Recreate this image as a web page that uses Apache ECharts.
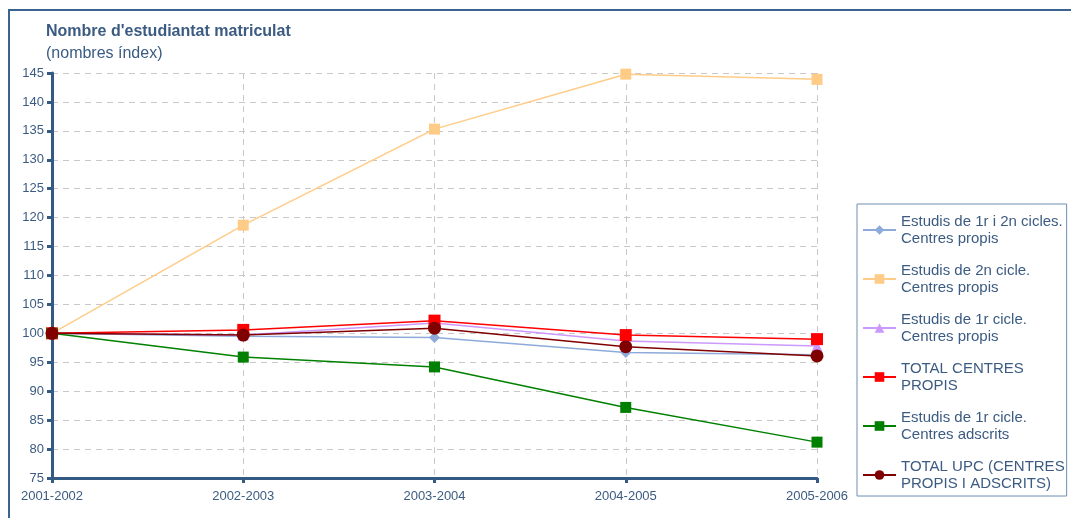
<!DOCTYPE html>
<html style="height: 100%;">
<head>
    <meta charset="UTF-8">
    <script src="https://cdn.jsdelivr.net/npm/echarts/dist/echarts.min.js"></script>
</head>
<body style="height: 100%; margin: 0; background: #fff;">
    <div id="chart" style="width: 1071px; height: 518px;"></div>

    <script type="text/javascript">
        // Academic years (x axis)
        var years = ['2001-2002', '2002-2003', '2003-2004', '2004-2005', '2005-2006'];

        // Index numbers (2001-2002 = 100)
        var cicles1r2nPropis = [100, 99.5, 99.3, 96.7, 96.3];
        var cicle2nPropis = [100, 118.7, 135.3, 144.8, 143.9];
        var cicle1rPropis = [100, 99.7, 101.8, 98.7, 97.8];
        var totalPropis = [100, 100.6, 102.2, 99.7, 99.0];
        var cicle1rAdscrits = [100, 95.9, 94.2, 87.2, 81.2];
        var totalUpc = [100, 99.7, 100.9, 97.7, 96.1];

        var names = [
            'Estudis de 1r i 2n cicles.\nCentres propis',
            'Estudis de 2n cicle.\nCentres propis',
            'Estudis de 1r cicle.\nCentres propis',
            'TOTAL CENTRES\nPROPIS',
            'Estudis de 1r cicle.\nCentres adscrits',
            'TOTAL UPC (CENTRES\nPROPIS I ADSCRITS)'
        ];

        var textColor = '#3b5b82';
        var axisColor = '#345a84';

        function makeSeries(name, data, color, symbol, size) {
            return {
                name: name,
                type: 'line',
                data: data,
                symbol: symbol,
                symbolSize: size,
                itemStyle: { color: color },
                lineStyle: { color: color, width: 1.5 },
                emphasis: { disabled: true },
                animation: false
            };
        }

        var chart = echarts.init(document.getElementById('chart'));

        var option = {
            backgroundColor: '#fff',
            textStyle: { fontFamily: 'Liberation Sans, Arial, sans-serif' },
            title: [
                {
                    text: "Nombre d'estudiantat matriculat",
                    left: 41,
                    top: 19,
                    textStyle: { color: textColor, fontSize: 16, fontWeight: 'bold' }
                },
                {
                    text: '(nombres índex)',
                    left: 41,
                    top: 41,
                    textStyle: { color: textColor, fontSize: 16, fontWeight: 'normal' }
                }
            ],
            graphic: [
                {
                    type: 'polyline',
                    shape: { points: [[9, 520], [9, 10], [1075, 10]] },
                    style: { stroke: '#3a6390', lineWidth: 2, fill: null }
                }
            ],
            grid: { left: 52, right: 254, top: 73, bottom: 40 },
            legend: {
                orient: 'vertical',
                left: 857,
                top: 204,
                padding: [9, 2, 4, 5],
                itemGap: 15,
                itemWidth: 33,
                itemHeight: 12,
                borderColor: '#6f8db3',
                borderWidth: 1,
                textStyle: { color: textColor, fontSize: 15, lineHeight: 17 },
                data: names
            },
            xAxis: {
                type: 'category',
                data: years,
                boundaryGap: false,
                axisLine: { lineStyle: { color: axisColor, width: 3 } },
                axisTick: { alignWithLabel: true, length: 5, lineStyle: { color: axisColor, width: 3 } },
                axisLabel: { color: textColor, fontSize: 13, margin: 12 },
                splitLine: { show: true, lineStyle: { color: '#c8c8c8', type: [6, 5], width: 1 } }
            },
            yAxis: {
                type: 'value',
                min: 75,
                max: 145,
                interval: 5,
                axisLine: { show: true, lineStyle: { color: axisColor, width: 3 } },
                axisTick: { show: true, length: 5, lineStyle: { color: axisColor, width: 3 } },
                axisLabel: { color: textColor, fontSize: 13, margin: 8 },
                splitLine: { show: true, lineStyle: { color: '#c8c8c8', type: [6, 5], width: 1 } }
            },
            series: [
                makeSeries(names[0], cicles1r2nPropis, '#8eaadb', 'diamond', 11),
                makeSeries(names[1], cicle2nPropis, '#ffcc88', 'rect', 11),
                makeSeries(names[2], cicle1rPropis, '#cc99ff', 'triangle', 11),
                makeSeries(names[3], totalPropis, '#ff0000', 'rect', 12),
                makeSeries(names[4], cicle1rAdscrits, '#008000', 'rect', 11),
                makeSeries(names[5], totalUpc, '#800000', 'circle', 13)
            ]
        };

        chart.setOption(option);
        window.addEventListener('resize', chart.resize);
    </script>
</body>
</html>
